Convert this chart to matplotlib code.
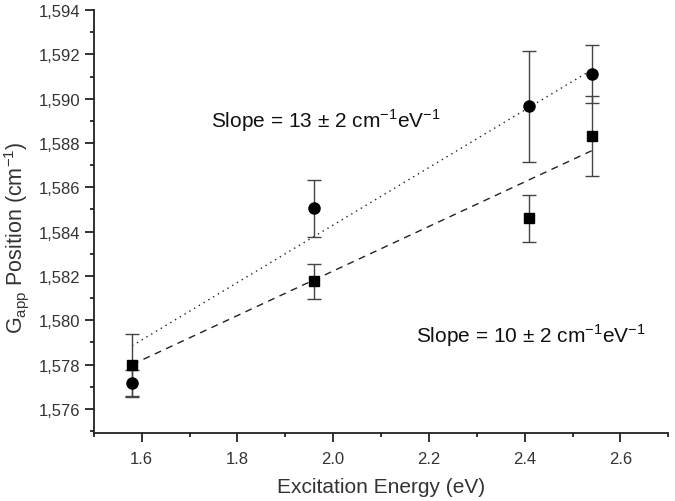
import numpy as np
import matplotlib
matplotlib.use('Agg')
import matplotlib.pyplot as plt
from matplotlib.ticker import MultipleLocator, FuncFormatter

plt.rcParams['font.family'] = ['Liberation Sans', 'DejaVu Sans']

energy = [1.58, 1.96, 2.41, 2.54]
circle_pos = [1577.15, 1585.05, 1589.65, 1591.1]
circle_err = [0.6, 1.3, 2.5, 1.3]
square_pos = [1578.0, 1581.75, 1584.6, 1588.3]
square_err = [1.4, 0.8, 1.05, 1.8]

fit_x = [1.58, 2.54]
fit_circle = [1578.85, 1591.3]
fit_square = [1578.0, 1587.65]

txt = '#333333'

fig = plt.figure(figsize=(6.75, 5.02), dpi=100)
ax = fig.add_axes([0.139, 0.135, 0.851, 0.843])

ax.plot(fit_x, fit_circle, color='#222222', lw=1.0, ls=(0, (1, 3)))
ax.plot(fit_x, fit_square, color='#222222', lw=1.0, ls=(0, (5, 4)))

ax.errorbar(energy, circle_pos, yerr=circle_err, fmt='o', color='black', ms=8,
            ecolor='#444444', elinewidth=1.0, capsize=5, capthick=1.0)
ax.errorbar(energy, square_pos, yerr=square_err, fmt='s', color='black', ms=7,
            ecolor='#444444', elinewidth=1.0, capsize=5, capthick=1.0)

ax.set_xlim(1.5, 2.7)
ax.set_ylim(1574.9, 1594)
ax.xaxis.set_major_locator(MultipleLocator(0.2))
ax.xaxis.set_minor_locator(MultipleLocator(0.1))
ax.yaxis.set_major_locator(MultipleLocator(2))
ax.yaxis.set_minor_locator(MultipleLocator(1))
ax.xaxis.set_major_formatter(FuncFormatter(lambda v, p: '%.1f' % v))
ax.yaxis.set_major_formatter(FuncFormatter(lambda v, p: '{:,.0f}'.format(v)))

for s in ['top', 'right']:
    ax.spines[s].set_visible(False)
for s in ['left', 'bottom']:
    ax.spines[s].set_linewidth(1.3)
    ax.spines[s].set_color('#222222')

ax.tick_params(which='major', length=6.5, width=1.3, color='#222222', labelsize=12,
               labelcolor=txt, pad=3)
ax.tick_params(axis='x', which='major', pad=6)
ax.tick_params(which='minor', length=3, width=1.3, color='#222222')

ax.set_xlabel('Excitation Energy (eV)', fontsize=15, color=txt, labelpad=8)
ax.set_ylabel(r'G$_{\mathregular{app}}$ Position (cm$^{\mathregular{-1}}$)', fontsize=15.5,
              color=txt)
ax.yaxis.set_label_coords(-0.11, 0.465)

ax.text(1.745, 1589.05, 'Slope = 13 \u00b1 2 cm$^{\\mathregular{-1}}$eV$^{\\mathregular{-1}}$',
        fontsize=15, color='#111111', va='center')
ax.text(2.172, 1579.35, 'Slope = 10 \u00b1 2 cm$^{\\mathregular{-1}}$eV$^{\\mathregular{-1}}$',
        fontsize=15, color='#111111', va='center')

fig.savefig('out.png', dpi=100)
